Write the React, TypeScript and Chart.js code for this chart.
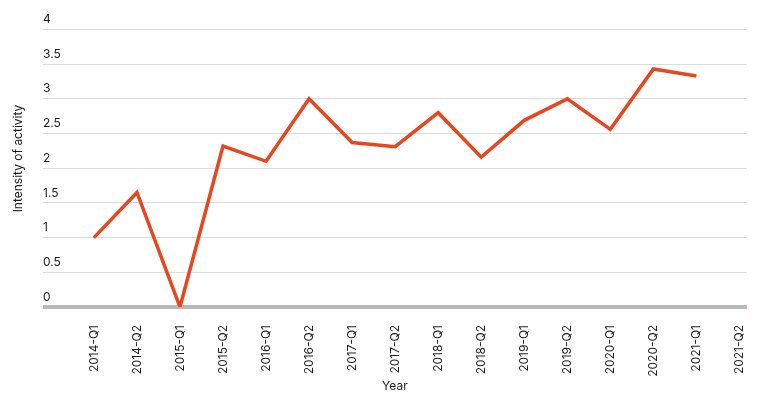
import { Chart, registerables } from 'chart.js'
import { useEffect, useRef } from 'react'

Chart.register(...registerables)

// quarters along the x axis
const quarters = [
  '2014-Q1', '2014-Q2', '2015-Q1', '2015-Q2', '2016-Q1', '2016-Q2',
  '2017-Q1', '2017-Q2', '2018-Q1', '2018-Q2', '2019-Q1', '2019-Q2',
  '2020-Q1', '2020-Q2', '2021-Q1', '2021-Q2',
]

// intensity of activity per quarter (last quarter has no value yet)
const intensity = [
  1.0, 1.65, 0, 2.32, 2.1, 3.0, 2.37, 2.31, 2.8, 2.16, 2.69, 3.0, 2.56, 3.43,
  3.33, null,
]

const yTicks = [0, 0.5, 1, 1.5, 2, 2.5, 3, 3.5, 4]

const FONT = 'Inter, "Noto Sans", sans-serif'
const TEXT = '#1c1c1c'

const IntensityChart = () => {
  const chartRef = useRef<HTMLCanvasElement | null>(null)

  useEffect(() => {
    const ctx = chartRef.current?.getContext('2d')
    if (!ctx) return

    const points = intensity
      .map((v, i) => ({ x: i, y: v }))
      .filter((p) => p.y !== null)

    new Chart(ctx, {
      type: 'line',
      data: {
        datasets: [
          {
            label: 'Intensity of activity',
            data: points,
            borderColor: '#e8461e',
            borderWidth: 3.5,
            borderJoinStyle: 'miter',
            pointRadius: 0,
            tension: 0,
            fill: false,
          },
        ],
      },
      options: {
        responsive: true,
        maintainAspectRatio: false,
        animation: false,
        layout: {
          padding: { top: 10, right: 16, left: 0, bottom: 0 },
        },
        plugins: {
          legend: { display: false },
          tooltip: { enabled: false },
        },
        scales: {
          x: {
            type: 'linear',
            min: -1.183,
            max: 15.171,
            grid: { display: false },
            border: { display: false },
            afterBuildTicks: (axis) => {
              axis.ticks = quarters.map((_, i) => ({ value: i }))
            },
            afterFit: (axis) => {
              axis.height = 105
            },
            ticks: {
              autoSkip: false,
              minRotation: 90,
              maxRotation: 90,
              padding: 10,
              color: TEXT,
              font: { family: FONT, size: 12 },
              callback: (value) => quarters[value as number] ?? '',
            },
            title: {
              display: true,
              text: 'Year',
              color: TEXT,
              font: { family: FONT, size: 12 },
              padding: { top: 0, bottom: 18 },
            },
          },
          y: {
            min: 0,
            max: 4.28,
            afterBuildTicks: (axis) => {
              axis.ticks = yTicks.map((v) => ({ value: v }))
            },
            afterFit: (axis) => {
              axis.width = 43
            },
            border: { display: false },
            grid: {
              drawTicks: false,
              color: (c) => (c.tick?.value === 0 ? '#b3bab7' : '#dcdcdc'),
              lineWidth: (c) => (c.tick?.value === 0 ? 4 : 1),
            },
            ticks: {
              mirror: true,
              padding: 0,
              labelOffset: -10,
              color: TEXT,
              font: { family: FONT, size: 12 },
              callback: (value) => String(value),
            },
            title: {
              display: true,
              text: 'Intensity of activity',
              color: TEXT,
              font: { family: FONT, size: 12 },
              padding: { top: 11, bottom: 0 },
            },
          },
        },
      },
    })

    return () => {
      Chart.getChart(ctx)?.destroy()
    }
  }, [])

  return <canvas ref={chartRef} />
}

export default function App() {
  return (
    <div
      style={{ position: 'absolute', left: 0, top: 0, width: 764, height: 412 }}
    >
      <IntensityChart />
    </div>
  )
}
